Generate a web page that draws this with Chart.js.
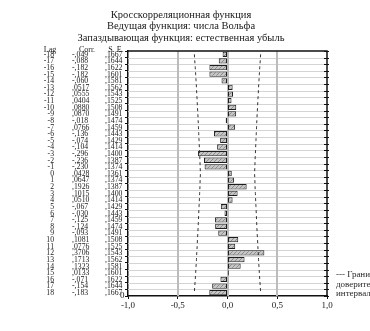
<!DOCTYPE html>
<html>
<head>
<meta charset="utf-8">
<title>Кросскорреляционная функция</title>
<script src="https://cdn.jsdelivr.net/npm/chart.js@4.4.0/dist/chart.umd.min.js"></script>
<style>
    html, body { margin: 0; padding: 0; background: #fff; }
    #wrap { width: 370px; height: 331px; }
</style>
</head>
<body>
<div id="wrap"><canvas id="ccfChart" width="370" height="331"></canvas></div>
<script>
// Лаги, коэффициенты кросскорреляции и стандартные ошибки
const lags = [-18, -17, -16, -15, -14, -13, -12, -11, -10, -9, -8, -7, -6, -5, -4, -3, -2, -1,
    0, 1, 2, 3, 4, 5, 6, 7, 8, 9, 10, 11, 12, 13, 14, 15, 16, 17, 18];
const corr = [-0.049, -0.088, -0.182, -0.182, -0.060, 0.0517, 0.0555, 0.0404, 0.0880, 0.0870,
    -0.018, 0.0766, -0.136, -0.074, -0.104, -0.296, -0.236, -0.230, 0.0428, 0.0647, 0.1926,
    0.1015, 0.0510, -0.067, -0.030, -0.125, -0.124, -0.093, 0.1081, 0.0776, 0.3706, 0.1713,
    0.1323, 0.0133, -0.071, -0.154, -0.183];
const stdErr = [0.1667, 0.1644, 0.1622, 0.1601, 0.1581, 0.1562, 0.1543, 0.1525, 0.1508, 0.1491,
    0.1474, 0.1459, 0.1443, 0.1429, 0.1414, 0.1400, 0.1387, 0.1374, 0.1361, 0.1374, 0.1387,
    0.1400, 0.1414, 0.1429, 0.1443, 0.1459, 0.1474, 0.1491, 0.1508, 0.1525, 0.1543, 0.1562,
    0.1581, 0.1601, 0.1622, 0.1644, 0.1667];
// граница доверительного интервала (±2 S.E.)
const confLimit = [0.333, 0.329, 0.324, 0.320, 0.316, 0.312, 0.309, 0.305, 0.302, 0.298,
    0.295, 0.292, 0.289, 0.286, 0.283, 0.280, 0.277, 0.275, 0.272, 0.275, 0.277, 0.280,
    0.283, 0.286, 0.289, 0.292, 0.295, 0.298, 0.302, 0.305, 0.309, 0.312, 0.316, 0.320,
    0.324, 0.329, 0.333];
const xTicks = [-1, -0.5, 0, 0.5, 1];
const titleLines = [
    'Кросскорреляционная функция',
    'Ведущая функция: числа Вольфа',
    'Запаздывающая функция: естественная убыль'
];
const tableHeaders = ['Lag', 'Corr.', 'S. E.'];
const legendLines = ['--- Граница', 'доверительного', 'интервала'];

const SERIF = '"Liberation Serif", "DejaVu Serif", serif';

// штриховка столбцов
function makeHatch() {
    const c = document.createElement('canvas');
    c.width = 4; c.height = 4;
    const g = c.getContext('2d');
    g.fillStyle = '#c6c6c6';
    g.fillRect(0, 0, 4, 4);
    g.strokeStyle = '#8c8c8c';
    g.lineWidth = 1;
    g.beginPath();
    g.moveTo(0, 4); g.lineTo(4, 0);
    g.moveTo(-1, 1); g.lineTo(1, -1);
    g.moveTo(3, 5); g.lineTo(5, 3);
    g.stroke();
    return g.createPattern(c, 'repeat');
}

function fmtCorr(v) {
    if (v < 0) return '-,' + Math.abs(v).toFixed(3).slice(2);
    return ',' + v.toFixed(4).slice(2);
}
function fmtSE(v) {
    return ',' + v.toFixed(4).slice(2);
}
function fmtTick(v) {
    return v.toFixed(1).replace('.', ',');
}

// сетка под столбцами: вертикальные линии и линии между строками
const gridPlugin = {
    id: 'plotGrid',
    beforeDatasetsDraw(chart) {
        const ctx = chart.ctx;
        const area = chart.chartArea;
        const xScale = chart.scales.x;
        const yScale = chart.scales.y;
        ctx.save();
        ctx.strokeStyle = '#d4d4d4';
        ctx.lineWidth = 1;
        ctx.beginPath();
        for (let i = 1; i < lags.length; i++) {
            const y = Math.round(yScale.getPixelForValue(i - 0.5)) + 0.5;
            ctx.moveTo(area.left, y);
            ctx.lineTo(area.right, y);
        }
        ctx.stroke();
        ctx.strokeStyle = '#bcbcbc';
        ctx.lineWidth = 2;
        ctx.beginPath();
        xTicks.slice(1, -1).forEach(v => {
            const x = Math.round(xScale.getPixelForValue(v));
            ctx.moveTo(x, area.top);
            ctx.lineTo(x, area.bottom);
        });
        ctx.stroke();
        ctx.restore();
    }
};

// таблица слева, заголовки, рамка и подпись легенды
const decorPlugin = {
    id: 'decor',
    afterDraw(chart) {
        const ctx = chart.ctx;
        const area = chart.chartArea;
        const yScale = chart.scales.y;
        ctx.save();
        ctx.fillStyle = '#1a1a1a';

        ctx.font = '10.5px ' + SERIF;
        ctx.textAlign = 'center';
        ctx.textBaseline = 'middle';
        titleLines.forEach((t, i) => ctx.fillText(t, 181, 15 + i * 11.5));

        ctx.font = '8px ' + SERIF;
        ctx.fillText(tableHeaders[0], 50, 49.5);
        ctx.fillText(tableHeaders[1], 87, 49.5);
        ctx.fillText(tableHeaders[2], 116, 49.5);

        ctx.font = '9px ' + SERIF;
        lags.forEach((lag, i) => {
            const y = yScale.getPixelForValue(i);
            ctx.save();
            ctx.translate(0, y);
            ctx.scale(0.86, 1);
            ctx.textAlign = 'right';
            ctx.fillText(String(lag), 54 / 0.86, 0);
            ctx.textAlign = 'left';
            ctx.fillText(fmtCorr(corr[i]), 72 / 0.86, 0);
            ctx.fillText(fmtSE(stdErr[i]), 105 / 0.86, 0);
            ctx.restore();
        });
        ctx.textAlign = 'left';
        ctx.fillText('0', 120, area.bottom);

        // верхняя и правая стороны рамки с засечками
        ctx.strokeStyle = '#111';
        ctx.lineWidth = 1.5;
        ctx.beginPath();
        ctx.moveTo(area.left, area.top);
        ctx.lineTo(area.right, area.top);
        ctx.lineTo(area.right, area.bottom);
        ctx.stroke();
        ctx.lineWidth = 1;
        ctx.beginPath();
        for (let i = 0; i <= lags.length; i++) {
            const y = Math.round(yScale.getPixelForValue(i - 0.5)) + 0.5;
            ctx.moveTo(area.right - 3, y);
            ctx.lineTo(area.right + 2, y);
        }
        ctx.stroke();

        ctx.fillStyle = '#2a2a2a';
        ctx.font = '9px ' + SERIF;
        ctx.textBaseline = 'middle';
        legendLines.forEach((t, i) => ctx.fillText(t, 336, 275 + i * 9.5));
        ctx.restore();
    }
};

const hatch = makeHatch();

new Chart(document.getElementById('ccfChart'), {
    type: 'bar',
    data: {
        labels: lags,
        datasets: [
            {
                type: 'bar',
                data: corr,
                indexAxis: 'y',
                backgroundColor: hatch,
                borderColor: '#1e1e1e',
                borderWidth: 1,
                borderSkipped: false,
                barPercentage: 0.8,
                categoryPercentage: 1,
                order: 2
            },
            {
                type: 'line',
                data: confLimit,
                indexAxis: 'y',
                borderColor: '#333',
                borderWidth: 1,
                borderDash: [3, 3],
                pointRadius: 0,
                fill: false,
                order: 1
            },
            {
                type: 'line',
                data: confLimit.map(v => -v),
                indexAxis: 'y',
                borderColor: '#333',
                borderWidth: 1,
                borderDash: [3, 3],
                pointRadius: 0,
                fill: false,
                order: 1
            }
        ]
    },
    options: {
        indexAxis: 'y',
        responsive: false,
        animation: false,
        devicePixelRatio: 1,
        layout: { padding: { left: 125, right: 43, top: 51, bottom: 0 } },
        plugins: {
            legend: { display: false },
            tooltip: { enabled: false },
            title: { display: false }
        },
        scales: {
            x: {
                type: 'linear',
                min: -1,
                max: 1,
                afterBuildTicks: scale => {
                    scale.ticks = xTicks.map(v => ({ value: v }));
                },
                afterFit: scale => { scale.height = 35; },
                ticks: {
                    callback: v => fmtTick(v),
                    color: '#1a1a1a',
                    font: { family: SERIF, size: 9 },
                    padding: 1,
                    maxRotation: 0
                },
                grid: {
                    drawOnChartArea: false,
                    tickLength: 3,
                    tickColor: '#111',
                    tickWidth: 1
                },
                border: { color: '#111', width: 1.5 }
            },
            y: {
                type: 'category',
                afterFit: scale => { scale.width = 3; },
                ticks: { display: false },
                grid: {
                    offset: true,
                    drawOnChartArea: false,
                    tickLength: 3,
                    tickColor: '#111',
                    tickWidth: 1
                },
                border: { color: '#111', width: 1.5 }
            }
        }
    },
    plugins: [gridPlugin, decorPlugin]
});
</script>
</body>
</html>
